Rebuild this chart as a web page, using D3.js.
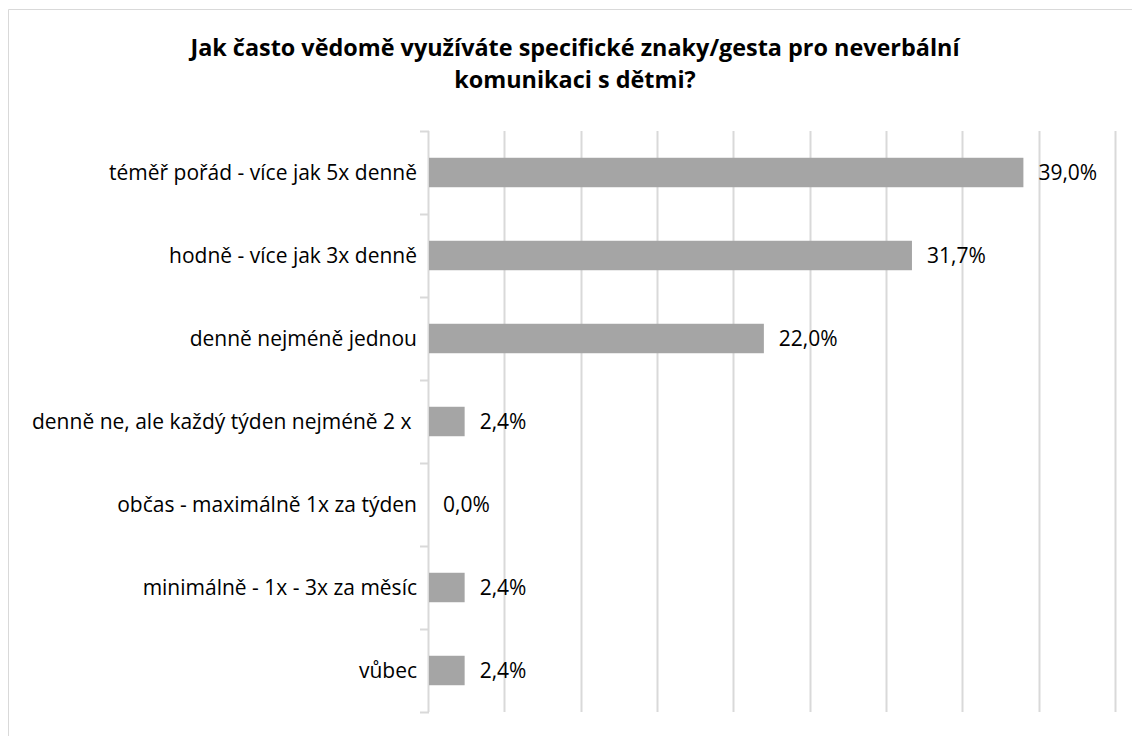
<!DOCTYPE html>
<html>
<head>
<meta charset="utf-8">
<script src="https://cdn.jsdelivr.net/npm/d3@7"></script>
<style>
  body { margin: 0; background: #fff; }
  svg { font-family: "Open Sans", sans-serif; }
</style>
</head>
<body>
<svg id="chart" width="1132" height="736"></svg>
<script>
// data
var categories = [
  "téměř pořád - více jak 5x denně",
  "hodně - více jak 3x denně",
  "denně nejméně jednou",
  "denně ne, ale každý týden nejméně 2 x ",
  "občas - maximálně 1x za týden",
  "minimálně - 1x - 3x za měsíc",
  "vůbec"
];
var values = [39.0, 31.7, 22.0, 2.4, 0.0, 2.4, 2.4];
var xTicks = [0, 5, 10, 15, 20, 25, 30, 35, 40, 45];
var titleLines = [
  "Jak často vědomě využíváte specifické znaky/gesta pro neverbální",
  "komunikaci s dětmi?"
];

var svg = d3.select("#chart");

// outer chart border (only top and left visible)
svg.append("path")
  .attr("d", "M8.5,740 V9.5 H1140")
  .attr("fill", "none")
  .attr("stroke", "#d9d9d9")
  .attr("stroke-width", 1);

// title
svg.append("g").selectAll("text")
  .data(titleLines)
  .enter().append("text")
  .attr("x", 575)
  .attr("y", function(d, i) { return 56 + i * 32; })
  .attr("text-anchor", "middle")
  .style("font-weight", "bold")
  .style("font-size", "23.4px")
  .style("fill", "#000")
  .text(function(d) { return d; });

var x = d3.scaleLinear().domain([0, 45]).range([428, 1115]);
var y = d3.scaleBand().domain(categories).range([131, 712]).padding(0);
var barH = y.bandwidth() * 0.355;

// gridlines
svg.append("g").selectAll("line")
  .data(xTicks)
  .enter().append("line")
  .attr("x1", function(d) { return Math.round(x(d)) + 0.5; })
  .attr("x2", function(d) { return Math.round(x(d)) + 0.5; })
  .attr("y1", 131)
  .attr("y2", 712)
  .attr("stroke", "#d9d9d9")
  .attr("stroke-width", 2);

// category tick marks at band boundaries
var bounds = categories.map(function(c) { return y(c); }).concat([712]);
svg.append("g").selectAll("line")
  .data(bounds)
  .enter().append("line")
  .attr("x1", 420)
  .attr("x2", 429)
  .attr("y1", function(d) { return Math.round(d) + 0.5; })
  .attr("y2", function(d) { return Math.round(d) + 0.5; })
  .attr("stroke", "#d9d9d9")
  .attr("stroke-width", 2);

// bars
svg.append("g").selectAll("rect")
  .data(values)
  .enter().append("rect")
  .attr("x", x(0) + 1)
  .attr("y", function(d, i) { return y(categories[i]) + y.bandwidth() / 2 - barH / 2; })
  .attr("width", function(d) { return Math.max(0, x(d) - x(0) - 1); })
  .attr("height", barH)
  .attr("fill", "#a5a5a5");

// value labels
svg.append("g").selectAll("text")
  .data(values)
  .enter().append("text")
  .attr("x", function(d) { return x(d) + 15; })
  .attr("y", function(d, i) { return y(categories[i]) + y.bandwidth() / 2; })
  .attr("dy", "0.36em")
  .style("font-size", "21px")
  .style("fill", "#000")
  .text(function(d) { return d.toFixed(1).replace(".", ",") + "%"; });

// category labels
svg.append("g").selectAll("text")
  .data(categories)
  .enter().append("text")
  .attr("x", 417)
  .attr("y", function(d) { return y(d) + y.bandwidth() / 2; })
  .attr("dy", "0.36em")
  .attr("text-anchor", "end")
  .style("font-size", "21px")
  .style("white-space", "pre")
  .style("fill", "#000")
  .text(function(d) { return d; });
</script>
</body>
</html>
